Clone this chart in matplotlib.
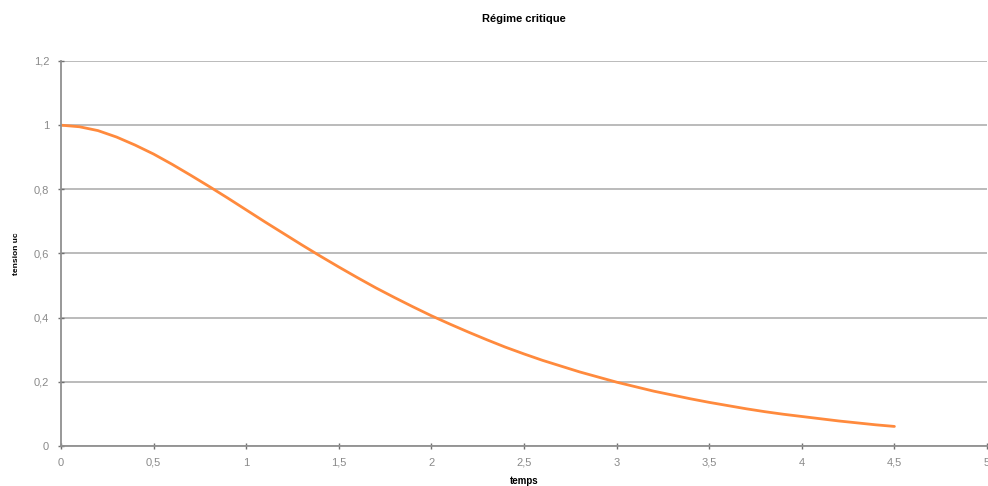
import matplotlib
matplotlib.use("Agg")
import matplotlib.pyplot as plt
from matplotlib.ticker import FuncFormatter

# temps (s) et tension uc
temps = [0.0, 0.1, 0.2, 0.3, 0.4, 0.5, 0.6, 0.7, 0.8, 0.9,
         1.0, 1.1, 1.2, 1.3, 1.4, 1.5, 1.6, 1.7, 1.8, 1.9,
         2.0, 2.1, 2.2, 2.3, 2.4, 2.5, 2.6, 2.7, 2.8, 2.9,
         3.0, 3.1, 3.2, 3.3, 3.4, 3.5, 3.6, 3.7, 3.8, 3.9,
         4.0, 4.1, 4.2, 4.3, 4.4, 4.5]
tension = [1.000, 0.995, 0.983, 0.963, 0.938, 0.910, 0.878, 0.844, 0.809, 0.773,
           0.736, 0.699, 0.663, 0.627, 0.592, 0.558, 0.525, 0.493, 0.463, 0.434,
           0.406, 0.380, 0.355, 0.331, 0.308, 0.287, 0.267, 0.249, 0.231, 0.215,
           0.199, 0.185, 0.171, 0.159, 0.147, 0.136, 0.126, 0.116, 0.107, 0.099,
           0.092, 0.085, 0.078, 0.072, 0.066, 0.061]

xticks = [0, 0.5, 1, 1.5, 2, 2.5, 3, 3.5, 4, 4.5, 5]
yticks = [0, 0.2, 0.4, 0.6, 0.8, 1.0, 1.2]

plt.rcParams['font.family'] = ['Liberation Sans', 'DejaVu Sans']

fig = plt.figure(figsize=(9.88, 4.86), dpi=100)
ax = fig.add_axes([0.0617, 0.0823, 0.9373, 0.7922])

ax.plot(temps, tension, color='#ff8a3d', lw=2.0, solid_capstyle='round')

ax.set_xlim(0, 5)
ax.set_ylim(0, 1.2)
ax.set_xticks(xticks)
ax.set_yticks(yticks)
fmt = FuncFormatter(lambda v, p: ('%g' % v).replace('.', ','))
ax.xaxis.set_major_formatter(fmt)
ax.yaxis.set_major_formatter(fmt)

ax.grid(axis='y', color='#a8a8a8', lw=1.1)
ax.set_axisbelow(True)
for s in ['top', 'right']:
    ax.spines[s].set_visible(False)
for s in ['left', 'bottom']:
    ax.spines[s].set_color('#909090')
    ax.spines[s].set_linewidth(1.3)
ax.tick_params(direction='inout', length=5, width=1, color='#707070',
               labelcolor='#8a8a8a', labelsize=8, pad=6)

ax.set_title('Régime critique', fontsize=8, fontweight='bold', pad=28)
ax.set_xlabel('temps', fontsize=7, fontweight='bold', labelpad=6)
ax.set_ylabel('tension uc', fontsize=6, fontweight='bold', labelpad=10)

fig.savefig('out.png', dpi=100)
